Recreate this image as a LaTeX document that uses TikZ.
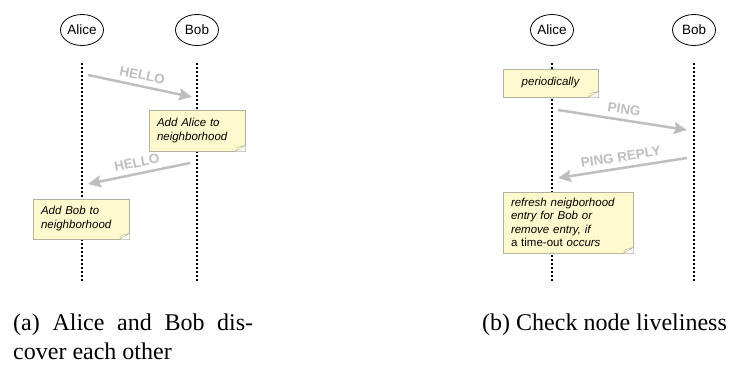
\documentclass[tikz,border=0pt]{standalone}
\usepackage{fontspec}
\setmainfont{Liberation Serif}
\setsansfont{Liberation Sans}
\usetikzlibrary{shapes.geometric,arrows.meta,calc}
\definecolor{notefill}{RGB}{255,250,205}
\definecolor{noteline}{RGB}{178,178,160}
\definecolor{msggray}{RGB}{190,190,190}
\newcommand{\dogear}[1]{%
  \fill[white] ($(#1.south east)+(-10,0)$) -- (#1.south east) -- ($(#1.south east)+(0,6)$) -- cycle;
  \draw[noteline,fill=notefill] ($(#1.south east)+(-10,0)$) -- ($(#1.south east)+(0,6)$) -- ($(#1.south east)+(-8,4)$) -- cycle;}

\begin{document}
\begin{tikzpicture}[x=1pt,y=1pt,
  every node/.append style={inner sep=0pt},
  actor/.style={ellipse,draw,line width=0.8pt,minimum width=43pt,minimum height=31pt,font=\sffamily\fontsize{13.5}{15}\selectfont},
  lifeline/.style={line width=2pt,dash pattern=on 2pt off 2pt},
  msg/.style={msggray,line width=2.5pt,-{Stealth[length=13pt,width=12pt,inset=2pt]}},
  msglabel/.style={msggray,sloped,above,inner sep=5pt,font=\sffamily\bfseries\fontsize{13.5}{15}\selectfont},
  note/.style={draw=noteline,fill=notefill,line width=0.8pt,inner xsep=8pt,align=left,font=\sffamily\itshape\fontsize{11.5}{14}\selectfont},
  caption/.style={anchor=base west,align=left,font=\rmfamily\fontsize{24}{29}\selectfont}]
\useasboundingbox (0,0) rectangle (730,-365);

\node[actor] (aliceA) at (82,-30) {Alice};
\node[actor] (bobA) at (197,-30) {Bob};
\node[actor] (aliceB) at (552,-30) {Alice};
\node[actor] (bobB) at (694,-30) {Bob};

\draw[lifeline] ($(aliceA.south)+(0,-17)$) -- ++(0,-218);
\draw[lifeline] ($(bobA.south)+(0,-17)$) -- ++(0,-218);
\draw[lifeline] ($(aliceB.south)+(0,-17)$) -- ++(0,-218);
\draw[lifeline] ($(bobB.south)+(0,-17)$) -- ++(0,-218);

\node[note,text width=80pt,minimum height=41pt] (addAlice) at (197,-130.5) {Add Alice to\\neighborhood};
\dogear{addAlice}
\node[note,text width=80pt,minimum height=40pt] (addBob) at (81,-219) {Add Bob to\\neighborhood};
\dogear{addBob}
\node[note,text width=79pt,minimum height=28pt,align=center] (periodic) at (550.5,-83) {periodically};
\dogear{periodic}
\node[note,text width=114pt,minimum height=61pt,font=\sffamily\itshape\fontsize{11.5}{13.5}\selectfont] (refresh) at (568,-222.5)
  {refresh neigborhood\\entry for Bob or\\remove entry, if\\{\upshape a time-out} occurs};
\dogear{refresh}

\coordinate (helloAs) at (88,-75);
\coordinate (helloAe) at (192,-97);
\coordinate (helloBs) at (190,-163);
\coordinate (helloBe) at (88,-184);
\coordinate (pings) at (558,-110);
\coordinate (pinge) at (687,-130);
\coordinate (replys) at (687,-158);
\coordinate (replye) at (558,-178);

\draw[msg] (helloAs) -- node[msglabel] {HELLO} (helloAe);
\draw[msg] (helloBs) -- node[msglabel] {HELLO} (helloBe);
\draw[msg] (pings) -- node[msglabel] {PING} (pinge);
\draw[msg] (replys) -- node[msglabel] {PING REPLY} (replye);

\node[caption] (capA) at (13,-359) {\makebox[240pt][s]{(a) Alice and Bob dis-}\\cover each other};
\node[caption] (capB) at (482,-330) {(b) Check node liveliness};
\end{tikzpicture}
\end{document}
